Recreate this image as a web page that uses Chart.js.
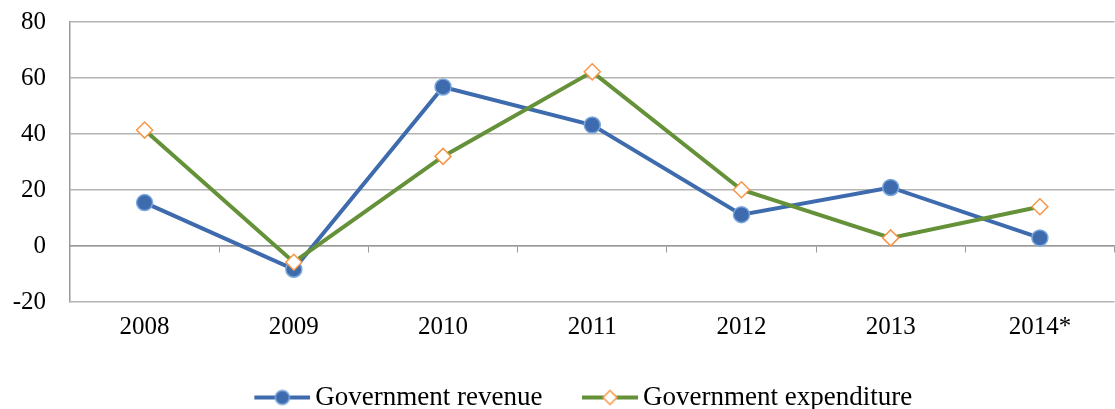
<!DOCTYPE html>
<html>
<head>
<meta charset="utf-8">
<script src="https://cdn.jsdelivr.net/npm/chart.js@4"></script>
<style>
  html, body { margin: 0; padding: 0; overflow: hidden; background: #fff; }
  #chart { display: block; width: 1124px; height: 409px; }
</style>
</head>
<body>
<canvas id="chart" width="1124" height="409"></canvas>
<script>
const years = ["2008", "2009", "2010", "2011", "2012", "2013", "2014*"];
const revenue = [15.5, -8.3, 56.8, 43.2, 11.2, 20.9, 2.9];
const expenditure = [41.4, -5.8, 32.0, 62.2, 20.1, 2.9, 14.0];
const yMin = -20, yMax = 80, yStep = 20;

const blue = "#3e6bad";
const green = "#659139";
const orange = "#f79646";
const font = { family: "'Liberation Serif', 'Times New Roman', serif", size: 25 };
const legendFont = { family: "'Liberation Serif', 'Times New Roman', serif", size: 27 };

// legend icon: blank lead-in, then a short line with the marker on it
function legendIcon(color, drawMarker) {
  const lead = 38, len = 56;
  const c = document.createElement("canvas");
  c.width = lead + len; c.height = 20;
  const g = c.getContext("2d");
  g.strokeStyle = color;
  g.lineWidth = 4;
  g.beginPath(); g.moveTo(lead, 10); g.lineTo(lead + len, 10); g.stroke();
  drawMarker(g, lead + len / 2, 10);
  return c;
}
const revIcon = legendIcon(blue, (g, x, y) => {
  g.beginPath(); g.arc(x, y, 7, 0, Math.PI * 2);
  g.fillStyle = blue; g.fill();
  g.lineWidth = 1.5; g.strokeStyle = "#7ba7dc"; g.stroke();
});
const expIcon = legendIcon(green, (g, x, y) => {
  g.beginPath();
  g.moveTo(x, y - 7); g.lineTo(x + 7, y); g.lineTo(x, y + 7); g.lineTo(x - 7, y); g.closePath();
  g.fillStyle = "#fff"; g.fill();
  g.lineWidth = 1.5; g.strokeStyle = orange; g.stroke();
});

// no side padding on the category axes, so the plot runs to the canvas edge
const noSidePadding = (scale) => { scale.paddingLeft = 0; scale.paddingRight = 0; };

new Chart(document.getElementById("chart"), {
  type: "line",
  data: {
    labels: years,
    datasets: [
      {
        label: "Government revenue",
        data: revenue,
        borderColor: blue,
        borderWidth: 4,
        pointRadius: 8,
        pointBackgroundColor: blue,
        pointBorderColor: "#7ba7dc",
        pointBorderWidth: 1.5,
        order: 2,
      },
      {
        label: "Government expenditure",
        data: expenditure,
        borderColor: green,
        borderWidth: 4,
        pointStyle: "rectRot",
        pointRadius: 8,
        pointBackgroundColor: "#fff",
        pointBorderColor: orange,
        pointBorderWidth: 1.5,
        order: 1,
      },
    ],
  },
  options: {
    responsive: false,
    animation: false,
    devicePixelRatio: 1,
    layout: { padding: { left: 13, top: 22, right: 0, bottom: -12 } },
    scales: {
      x: {
        offset: true,
        grid: { display: false, drawTicks: false },
        border: { display: false },
        ticks: { color: "#000", font: font, padding: 10 },
        afterFit: (scale) => { scale.height = 72; noSidePadding(scale); },
      },
      xZero: {
        type: "category",
        labels: years,
        offset: true,
        position: { y: 0 },
        grid: { drawOnChartArea: false, drawTicks: true, tickLength: 6, color: "#9a9a9a", offset: true },
        border: { display: true, color: "#9a9a9a", width: 1.5 },
        ticks: { display: false, padding: 0 },
        afterFit: noSidePadding,
      },
      y: {
        min: yMin,
        max: yMax,
        ticks: { stepSize: yStep, color: "#000", font: font, padding: 0 },
        grid: { color: "#b4b4b4", lineWidth: 1.5, drawTicks: true, tickLength: 24, tickColor: "rgba(0,0,0,0)" },
        border: { display: true, color: "#9a9a9a", width: 1.5 },
        afterFit: (scale) => { scale.width = 57; },
      },
    },
    plugins: {
      tooltip: { enabled: false },
      legend: {
        position: "bottom",
        labels: {
          color: "#000",
          font: legendFont,
          usePointStyle: true,
          pointStyleWidth: 77,
          padding: 10,
          generateLabels: () => [
            { text: "Government revenue", pointStyle: revIcon, fillStyle: blue, strokeStyle: blue, lineWidth: 0, datasetIndex: 0 },
            { text: "Government expenditure", pointStyle: expIcon, fillStyle: green, strokeStyle: green, lineWidth: 0, datasetIndex: 1 },
          ],
        },
      },
    },
  },
});
</script>
</body>
</html>
